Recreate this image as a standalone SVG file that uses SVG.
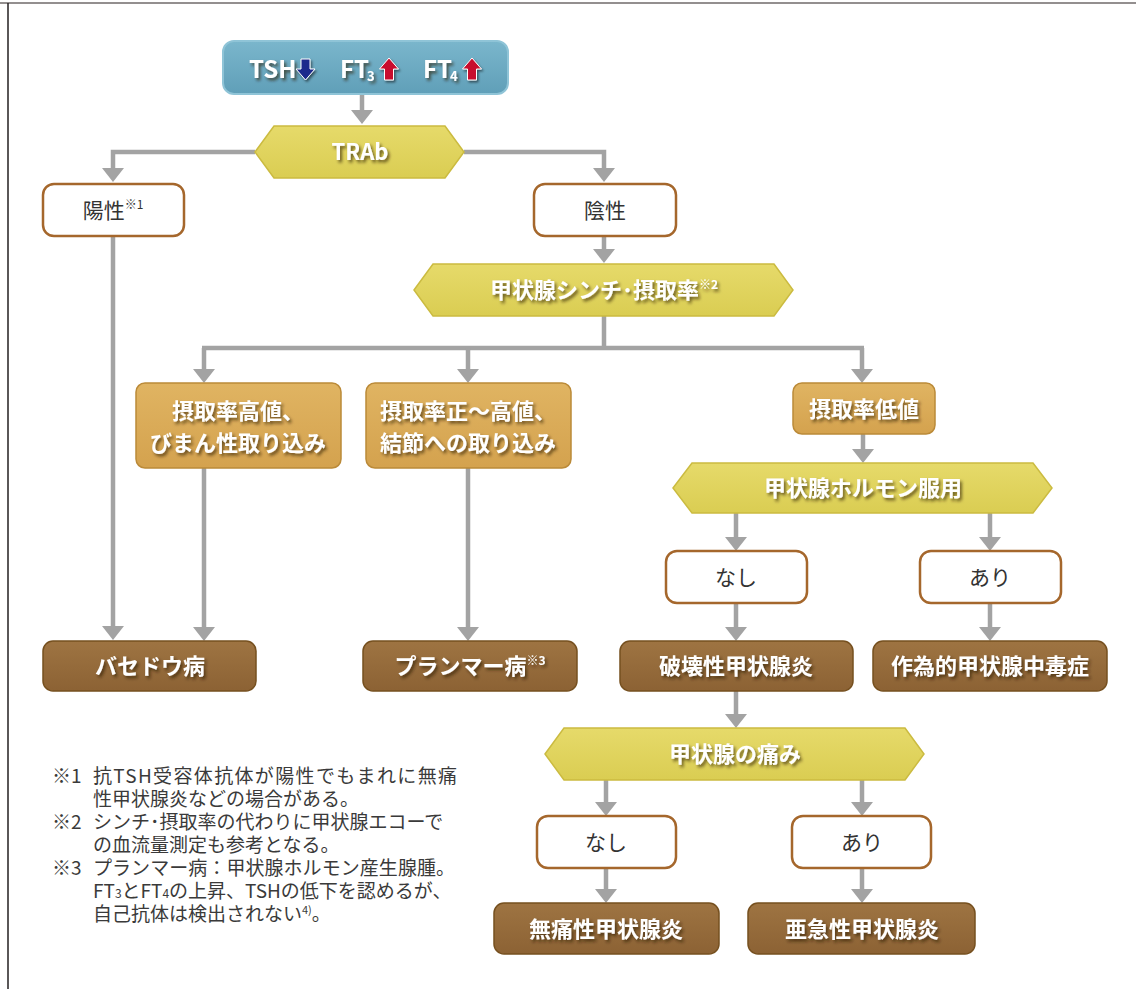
<svg xmlns="http://www.w3.org/2000/svg" width="1136" height="989" viewBox="0 0 1136 989">
<style>
text{font-family:"Noto Sans CJK JP","Noto Sans",sans-serif}
.conn{stroke:#a3a3a3;stroke-width:4.5;fill:none}
.cm{stroke:#a3a3a3;stroke-width:4.5;fill:none;marker-end:url(#ah)}
.wbox{fill:#fff;stroke:#a5672c;stroke-width:2.5}
.wt{font-size:21px;fill:#333;text-anchor:middle}
.bt{font-size:22px;font-weight:700;fill:#fff;text-anchor:middle;filter:url(#ts)}
.hex{fill:url(#gy);stroke:#cbbb40;stroke-width:1.5}
.tan{fill:url(#gt);stroke:#bb8a38;stroke-width:1.5}
.brn{fill:url(#gb);stroke:#76501f;stroke-width:1.5}
.fn{font-size:19px;fill:#3a3a3a}
</style>
<defs>
<marker id="ah" viewBox="0 0 14 22" refX="0" refY="11" markerWidth="14" markerHeight="22" orient="auto" markerUnits="userSpaceOnUse"><path d="M0,0 L14,11 L0,22 z" fill="#a3a3a3"/></marker>
<filter id="ts" x="-10%" y="-30%" width="130%" height="170%"><feDropShadow dx="2" dy="2.5" stdDeviation="1.5" flood-color="#2a1a05" flood-opacity="0.65"/></filter>
<filter id="as" x="-40%" y="-40%" width="180%" height="180%"><feDropShadow dx="1.5" dy="2" stdDeviation="1.2" flood-color="#000" flood-opacity="0.5"/></filter>
<linearGradient id="gbl" x1="0" y1="0" x2="0" y2="1"><stop offset="0" stop-color="#7ab6cc"/><stop offset="1" stop-color="#609fb8"/></linearGradient>
<linearGradient id="gy" x1="0" y1="0" x2="0" y2="1"><stop offset="0" stop-color="#e6da6a"/><stop offset="1" stop-color="#dacd52"/></linearGradient>
<linearGradient id="gt" x1="0" y1="0" x2="0" y2="1"><stop offset="0" stop-color="#e0b462"/><stop offset="1" stop-color="#d4a24e"/></linearGradient>
<linearGradient id="gb" x1="0" y1="0" x2="0" y2="1"><stop offset="0" stop-color="#9e7442"/><stop offset="1" stop-color="#8c6234"/></linearGradient>
</defs>
<rect width="1136" height="989" fill="#fff"/>
<line x1="0" y1="3" x2="1136" y2="3" stroke="#6f6a6a" stroke-width="1.5"/>
<line x1="8" y1="3" x2="8" y2="989" stroke="#231f20" stroke-width="1.5"/>

<g id="connectors">
<path class="cm" d="M362,94 V110"/>
<path class="cm" d="M255,152 H113 V168"/>
<path class="cm" d="M464,152 H604 V168"/>
<path class="cm" d="M113,236 V626"/>
<path class="cm" d="M604,236 V249"/>
<path class="conn" d="M604,316 V348"/>
<path class="conn" d="M202,348 H864"/>
<path class="cm" d="M204,348 V369"/>
<path class="cm" d="M468,348 V369"/>
<path class="cm" d="M862,348 V369"/>
<path class="cm" d="M204,468 V627"/>
<path class="cm" d="M468,468 V627"/>
<path class="cm" d="M863,434 V449"/>
<path class="cm" d="M736,513 V537"/>
<path class="cm" d="M990,513 V537"/>
<path class="cm" d="M736,603 V627"/>
<path class="cm" d="M990,603 V627"/>
<path class="cm" d="M736,691 V714"/>
<path class="cm" d="M606,780 V802"/>
<path class="cm" d="M862,780 V802"/>
<path class="cm" d="M606,868 V889"/>
<path class="cm" d="M862,868 V889"/>
</g>

<g id="n-top">
<rect x="223" y="41" width="285" height="53" rx="11" fill="url(#gbl)" stroke="#8fc4d7" stroke-width="2"/>
<g filter="url(#ts)" fill="#fff" font-weight="700">
<text x="249" y="78" font-size="24">TSH</text>
<text x="340" y="78" font-size="24">FT</text>
<text x="367" y="81" font-size="13">3</text>
<text x="423" y="78" font-size="24">FT</text>
<text x="450" y="81" font-size="13">4</text>
</g>
<g filter="url(#as)" stroke="#fff" stroke-width="1" stroke-linejoin="round">
<path d="M301,59 H310 V69 H315 L305.5,80 L296,69 H301 Z" fill="#1f2a8c"/>
<path d="M384.5,80 V69 H379.5 L389,58 L398.5,69 H393.5 V80 Z" fill="#c8102e"/>
<path d="M467.5,80 V69 H462.5 L472,58 L481.5,69 H476.5 V80 Z" fill="#c8102e"/>
</g>
</g>

<g id="n-trab">
<polygon class="hex" points="255,152 274,126 445,126 464,152 445,178 274,178"/>
<text class="bt" x="360" y="160">TRAb</text>
</g>

<g id="n-yousei">
<rect class="wbox" x="43" y="184" width="141" height="52" rx="11"/>
<text class="wt" x="113" y="218">陽性<tspan font-size="12" dy="-9">※1</tspan></text>
</g>

<g id="n-insei">
<rect class="wbox" x="534" y="184" width="142" height="52" rx="11"/>
<text class="wt" x="605" y="218">陰性</text>
</g>

<g id="n-scinti">
<polygon class="hex" points="414,290 433,264 774,264 793,290 774,316 433,316"/>
<text class="bt" x="604" y="298">甲状腺シンチ･摂取率<tspan font-size="12" dy="-9">※2</tspan></text>
</g>

<g id="n-high">
<rect class="tan" x="136" y="383" width="205" height="85" rx="9"/>
<text class="bt" x="238" y="419">摂取率高値、</text>
<text class="bt" x="238" y="451">びまん性取り込み</text>
</g>

<g id="n-normhigh">
<rect class="tan" x="366" y="383" width="205" height="85" rx="9"/>
<text class="bt" x="468" y="419">摂取率正～高値、</text>
<text class="bt" x="468" y="451">結節への取り込み</text>
</g>

<g id="n-low">
<rect class="tan" x="793" y="383" width="142" height="51" rx="9"/>
<text class="bt" x="864" y="417">摂取率低値</text>
</g>

<g id="n-hormone">
<polygon class="hex" points="673,488 692,463 1033,463 1052,488 1033,513 692,513"/>
<text class="bt" x="863" y="496">甲状腺ホルモン服用</text>
</g>

<g id="n-nashi1">
<rect class="wbox" x="666" y="551" width="141" height="52" rx="11"/>
<text class="wt" x="736" y="585">なし</text>
</g>

<g id="n-ari1">
<rect class="wbox" x="920" y="551" width="141" height="52" rx="11"/>
<text class="wt" x="990" y="585">あり</text>
</g>

<g id="n-basedow">
<rect class="brn" x="43" y="641" width="213" height="50" rx="10"/>
<text class="bt" x="150" y="674">バセドウ病</text>
</g>

<g id="n-plummer">
<rect class="brn" x="363" y="641" width="214" height="50" rx="10"/>
<text class="bt" x="470" y="674">プランマー病<tspan font-size="12" dy="-9">※3</tspan></text>
</g>

<g id="n-destructive">
<rect class="brn" x="620" y="641" width="233" height="50" rx="10"/>
<text class="bt" x="736" y="674">破壊性甲状腺炎</text>
</g>

<g id="n-factitious">
<rect class="brn" x="873" y="641" width="234" height="50" rx="10"/>
<text class="bt" x="990" y="674">作為的甲状腺中毒症</text>
</g>

<g id="n-pain">
<polygon class="hex" points="545,754 564,728 905,728 924,754 905,780 564,780"/>
<text class="bt" x="735" y="762">甲状腺の痛み</text>
</g>

<g id="n-nashi2">
<rect class="wbox" x="537" y="816" width="139" height="52" rx="11"/>
<text class="wt" x="606" y="850">なし</text>
</g>

<g id="n-ari2">
<rect class="wbox" x="792" y="816" width="139" height="52" rx="11"/>
<text class="wt" x="862" y="850">あり</text>
</g>

<g id="n-painless">
<rect class="brn" x="494" y="903" width="225" height="51" rx="10"/>
<text class="bt" x="606" y="937">無痛性甲状腺炎</text>
</g>

<g id="n-subacute">
<rect class="brn" x="748" y="903" width="227" height="51" rx="10"/>
<text class="bt" x="862" y="937">亜急性甲状腺炎</text>
</g>

<g id="notes">
<text class="fn" x="52" y="783">※1<tspan x="93" textLength="364" lengthAdjust="spacing">抗TSH受容体抗体が陽性でもまれに無痛</tspan><tspan x="93" y="806">性甲状腺炎などの場合がある。</tspan></text>
<text class="fn" x="52" y="829">※2<tspan x="93">シンチ･摂取率の代わりに甲状腺エコーで</tspan><tspan x="93" y="852">の血流量測定も参考となる。</tspan></text>
<text class="fn" x="52" y="875">※3<tspan x="93" textLength="362" lengthAdjust="spacing">プランマー病：甲状腺ホルモン産生腺腫。</tspan><tspan x="93" y="898">FT</tspan><tspan font-size="12">3</tspan><tspan>とFT</tspan><tspan font-size="12">4</tspan><tspan>の上昇、TSHの低下を認めるが、</tspan><tspan x="93" y="921">自己抗体は検出されない</tspan><tspan font-size="11" dy="-7">4)</tspan><tspan dy="7">。</tspan></text>
</g>
</svg>
